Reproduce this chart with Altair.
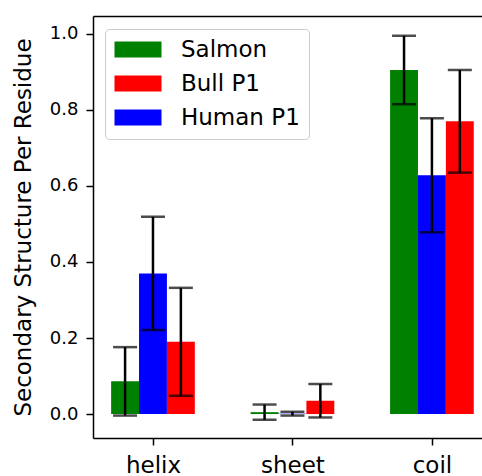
import altair as alt
import pandas as pd

# Secondary-structure fractions per residue, mean and error for each protein
categories = ["helix", "sheet", "coil"]
series = ["Salmon", "Human P1", "Bull P1"]          # order of bars inside a group
legend_order = ["Salmon", "Bull P1", "Human P1"]
colors = ["green", "red", "blue"]                   # matched to legend_order

salmon_mean = [0.086, 0.005, 0.905]
salmon_err = [0.090, 0.020, 0.090]
human_mean = [0.370, 0.001, 0.628]
human_err = [0.149, 0.005, 0.150]
bull_mean = [0.190, 0.035, 0.770]
bull_err = [0.142, 0.044, 0.135]

bar_width = 0.2
offsets = [-0.2, 0.0, 0.2]

rows = []
for s, off, means, errs in zip(series, offsets,
                               [salmon_mean, human_mean, bull_mean],
                               [salmon_err, human_err, bull_err]):
    for i, (cat, m, e) in enumerate(zip(categories, means, errs)):
        xc = i + off
        rows.append({
            "category": cat, "series": s, "mean": m,
            "xc": xc, "x0": xc - bar_width / 2, "x1": xc + bar_width / 2,
            "lo": m - e, "hi": m + e,
        })
df = pd.DataFrame(rows)

FONT = "DejaVu Sans"
label_expr = "[" + ",".join(f"'{c}'" for c in categories) + "][datum.value]"

x_scale = alt.Scale(domain=[-0.43, 2.359], nice=False, zero=False)
y_scale = alt.Scale(domain=[-0.063, 1.047], nice=False, zero=False)

x_axis = alt.Axis(values=[0, 1, 2], labelExpr=label_expr, title=None, grid=False,
                  orient="bottom",
                  labelFontSize=23, labelFont=FONT, labelColor="black",
                  labelPadding=9, tickSize=7, tickWidth=1.5, tickColor="black",
                  domainColor="black", domainWidth=1.5)
y_axis = alt.Axis(values=[0, 0.2, 0.4, 0.6, 0.8, 1.0], format=".1f", grid=False,
                  title="Secondary Structure Per Residue", titleFontSize=23,
                  titleFont=FONT, titleFontWeight="normal", titleColor="black",
                  titlePadding=14, labelFontSize=18, labelFont=FONT,
                  labelColor="black", labelPadding=8, tickSize=7, tickWidth=1.5,
                  tickColor="black", domainColor="black", domainWidth=1.5)
# top frame line only
top_axis = alt.Axis(orient="top", labels=False, ticks=False, title=None,
                    grid=False, domainColor="black", domainWidth=1.5)

# wide rectangular swatch; layout size kept small so rows stay compact
legend = alt.Legend(
    title=None, orient="none", legendX=12, legendY=13,
    symbolType="M-1,-0.727L3.273,-0.727L3.273,0.727L-1,0.727Z",
    symbolSize=484, symbolStrokeWidth=0, symbolOpacity=1,
    labelFont=FONT, labelFontSize=23, labelColor="black", labelOffset=44,
    rowPadding=10, padding=9, fillColor="rgba(255,255,255,0.8)",
    strokeColor="#cccccc", cornerRadius=4,
)

base = alt.Chart(df)

bars = base.mark_bar(opacity=1).encode(
    x=alt.X("x0:Q", scale=x_scale, axis=x_axis),
    x2="x1:Q",
    y=alt.Y("mean:Q", scale=y_scale, axis=y_axis),
    y2=alt.datum(0),
    color=alt.Color("series:N", scale=alt.Scale(domain=legend_order, range=colors),
                    legend=legend),
)

whiskers = base.mark_rule(color="black", strokeWidth=2.5).encode(
    x=alt.X("xc:Q", axis=None), y="lo:Q", y2="hi:Q",
)

caps = base.transform_fold(["lo", "hi"], as_=["end", "val"]).mark_tick(
    orient="horizontal", size=24, thickness=2.5, color="black"
).encode(
    x=alt.X("xc:Q", axis=top_axis),
    y="val:Q",
)

chart = alt.layer(bars, whiskers, caps).resolve_axis(x="independent").properties(
    width=389, height=422,
    autosize=alt.AutoSizeParams(type="none"),
    padding={"left": 93, "top": 16, "right": 0, "bottom": 38},
    background="white",
).configure_view(stroke="transparent")

chart.save("out.html", embed_options={"renderer": "svg", "actions": False})
